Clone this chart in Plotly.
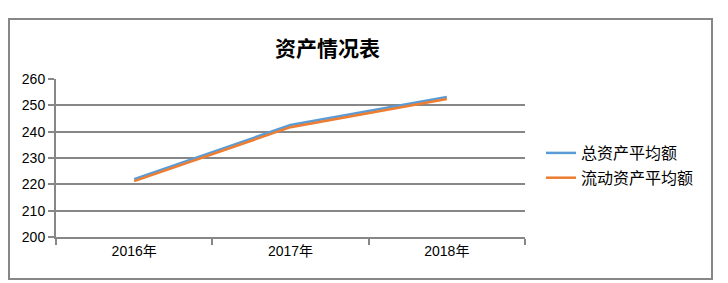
import plotly.graph_objects as go

categories = ["2016年", "2017年", "2018年"]
total_assets = [222.0, 242.5, 253.2]
current_assets = [221.2, 241.7, 252.4]
series_names = ["总资产平均额", "流动资产平均额"]
y_ticks = [200, 210, 220, 230, 240, 250, 260]

W, H = 728, 283
L, R, T, B = 56, 525, 79, 237
pw, ph = R - L, B - T

def px_x(p):
    return (p - L) / pw

def px_y(p):
    return (B - p) / ph

font_main = "Liberation Sans, Noto Sans CJK SC, sans-serif"
gray = "#878787"

fig = go.Figure()
fig.add_trace(go.Scatter(x=categories, y=total_assets, mode="lines", name=series_names[0],
                         line=dict(color="#5B9BD5", width=2.5), legendgroup="a"))
fig.add_trace(go.Scatter(x=categories, y=current_assets, mode="lines", name=series_names[1],
                         line=dict(color="#ED7D31", width=2.5), legendgroup="b"))

fig.update_layout(
    width=W, height=H,
    margin=dict(l=L, r=W - R, t=T, b=H - B, pad=0),
    paper_bgcolor="white", plot_bgcolor="white",
    font=dict(family=font_main, size=13, color="#000000"),
    showlegend=True,
    legend=dict(x=px_x(541), y=px_y(136), xanchor="left", yanchor="top",
                font=dict(family="Noto Sans CJK SC, sans-serif", size=16),
                tracegroupgap=1, bgcolor="rgba(0,0,0,0)"),
    xaxis=dict(type="category", tickson="boundaries", ticks="outside", ticklen=6,
               tickcolor=gray, tickwidth=2, showline=True, linecolor=gray, linewidth=2,
               showgrid=False, range=[-0.5, 2.5], fixedrange=True,
               tickfont=dict(family=font_main, size=14)),
    yaxis=dict(range=[200, 260], tickvals=y_ticks, ticks="outside", ticklen=6,
               tickcolor=gray, tickwidth=2, showline=True, linecolor=gray, linewidth=2,
               showgrid=True, gridcolor=gray, gridwidth=2, zeroline=False,
               tickfont=dict(family=font_main, size=14)),
    annotations=[dict(text="<b>资产情况表</b>", x=px_x(327), y=px_y(47), xref="paper", yref="paper",
                      showarrow=False, xanchor="center", yanchor="middle",
                      font=dict(family="Noto Sans CJK SC, sans-serif", size=21, color="#000000"))],
    shapes=[dict(type="rect", xref="paper", yref="paper",
                 x0=px_x(9), x1=px_x(712), y0=px_y(279), y1=px_y(19),
                 line=dict(color=gray, width=2), fillcolor="rgba(0,0,0,0)", layer="below")],
)

fig.write_html("out.html")
